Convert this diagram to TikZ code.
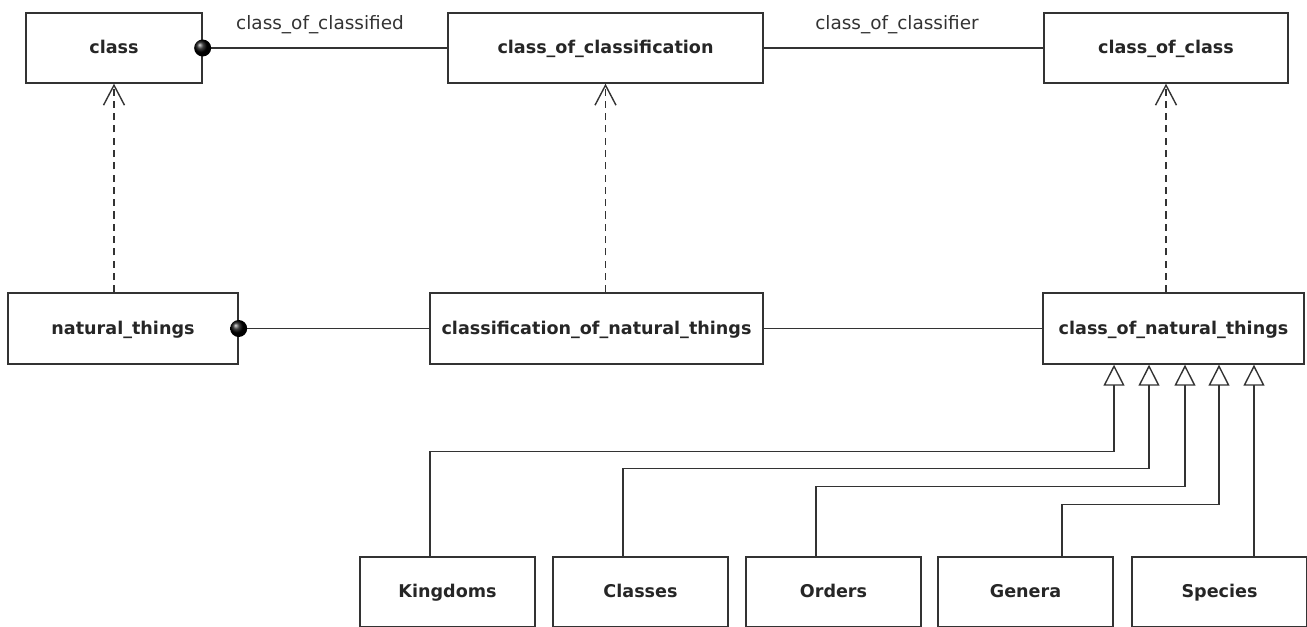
\documentclass[tikz,border=0pt]{standalone}
\usepackage{fontspec}
\setmainfont{DejaVu Sans}
\usetikzlibrary{arrows.meta,shadings}

\begin{document}
\begin{tikzpicture}[x=0.02cm,y=-0.02cm,
   box/.style={draw=black!80,line width=0.8pt,minimum height=1.4cm,inner sep=0pt,text height=1.6ex,text depth=0.45ex,font=\bfseries,text=black!85},
   link/.style={draw=black!80,line width=0.8pt},
   realize/.style={link,dash pattern=on 4pt off 3pt,-{Straight Barb[length=0.4cm,width=0.42cm]}},
   inherit/.style={link,-{Triangle[open,fill=white,length=0.42cm,width=0.42cm]}},
   role/.style={font=\fontsize{10.5}{12}\selectfont,text=black!80}]
   \useasboundingbox (0,0) rectangle (1307,626);
   \node[box,minimum width=3.52cm] (cls) at (114,48) {class};
   \node[box,minimum width=6.3cm] (coc) at (605.5,48) {class\_of\_classification};
   \node[box,minimum width=4.88cm] (ccls) at (1166,48) {class\_of\_class};
   \node[box,minimum width=4.6cm,minimum height=1.42cm] (nat) at (123,328.5) {natural\_things};
   \node[box,minimum width=6.66cm,minimum height=1.42cm] (con) at (596.5,328.5) {classification\_of\_natural\_things};
   \node[box,minimum width=5.22cm,minimum height=1.42cm] (cnt) at (1173.5,328.5) {class\_of\_natural\_things};
   \node[box,minimum width=3.5cm] (kingdoms) at (447.5,592) {Kingdoms};
   \node[box,minimum width=3.5cm] (classes) at (640.5,592) {Classes};
   \node[box,minimum width=3.5cm] (orders) at (833.5,592) {Orders};
   \node[box,minimum width=3.5cm] (genera) at (1025.5,592) {Genera};
   \node[box,minimum width=3.5cm] (species) at (1219.5,592) {Species};
   \node[role] (classified) at (320,25) {class\_of\_classified};
   \node[role] (classifier) at (897,25) {class\_of\_classifier};
   \draw[link] (cls.east) -- (coc.west);
   \draw[link] (coc.east) -- (ccls.west);
   \draw[link] (nat.east) -- (con.west);
   \draw[link] (con.east) -- (cnt.west);
   \shade[ball color=black] (cls.east) circle (0.17cm);
   \shade[ball color=black] (nat.east) circle (0.17cm);
   \draw[realize] (nat.north -| cls.south) -- (cls.south);
   \draw[realize] (con.north -| coc.south) -- (coc.south);
   \draw[realize] (cnt.north -| ccls.south) -- (ccls.south);
   \draw[inherit] ([xshift=-0.35cm]kingdoms.north) -- ++(0,-105) -| ([xshift=-1.19cm]cnt.south);
   \draw[inherit] ([xshift=-0.35cm]classes.north) -- ++(0,-88) -| ([xshift=-0.49cm]cnt.south);
   \draw[inherit] ([xshift=-0.35cm]orders.north) -- ++(0,-70) -| ([xshift=0.23cm]cnt.south);
   \draw[inherit] ([xshift=0.73cm]genera.north) -- ++(0,-52) -| ([xshift=0.91cm]cnt.south);
   \draw[inherit] ([xshift=1.61cm]cnt.south |- species.north) -- ([xshift=1.61cm]cnt.south);
\end{tikzpicture}
\end{document}
